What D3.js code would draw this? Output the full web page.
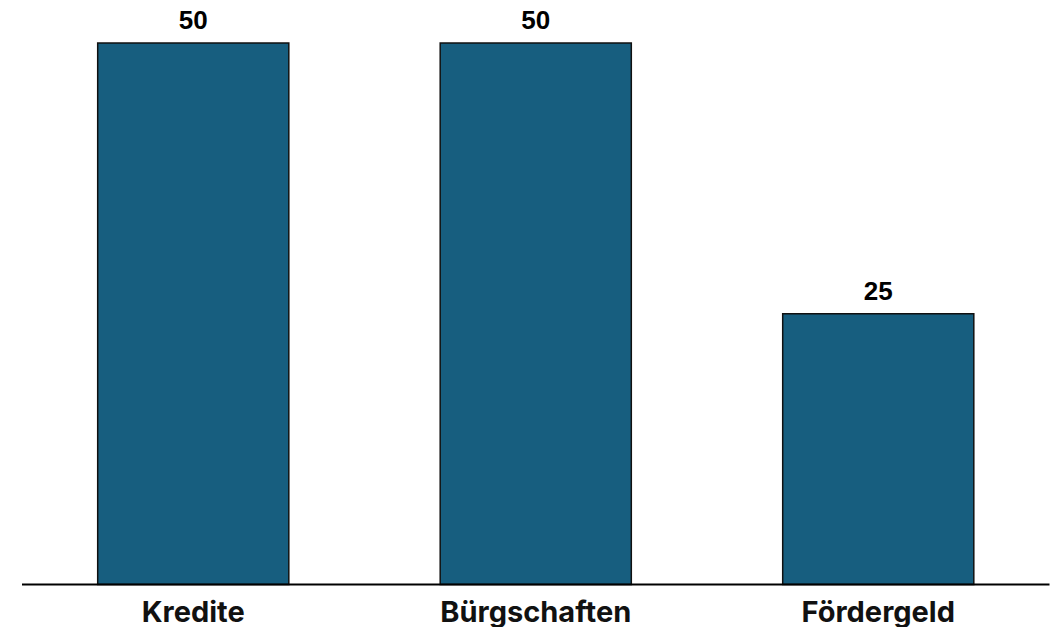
<!DOCTYPE html>
<html><head><meta charset="utf-8">
<script src="https://cdn.jsdelivr.net/npm/d3@7"></script>
<style>body{margin:0;background:#fff}svg{display:block}</style>
</head><body>
<svg id="c" width="1053" height="627"></svg>
<script>
const categories = ["Kredite", "Bürgschaften", "Fördergeld"];
const values = [50, 50, 25];

const svg = d3.select("#c");
const baseY = 584.5;
const x = d3.scaleBand().domain(categories).range([22, 1049.5]).paddingInner(0.442).paddingOuter(0.221);
const y = d3.scaleLinear().domain([0, 50]).range([baseY, 43]);

svg.selectAll("rect.bar").data(categories).join("rect")
  .attr("class","bar")
  .attr("x", d => x(d))
  .attr("y", (d,i) => y(values[i]))
  .attr("width", x.bandwidth())
  .attr("height", (d,i) => baseY - y(values[i]))
  .attr("fill", "#175e7f")
  .attr("stroke", "#111")
  .attr("stroke-width", 1.5);

svg.selectAll("text.val").data(categories).join("text")
  .attr("class","val")
  .attr("x", d => x(d) + x.bandwidth()/2)
  .attr("y", (d,i) => y(values[i]) - 14)
  .attr("text-anchor","middle")
  .attr("font-family","Liberation Sans, Arial, sans-serif")
  .attr("font-weight","bold")
  .attr("font-size", 26)
  .attr("fill","#000")
  .text((d,i) => values[i]);

const axis = d3.axisBottom(x).tickSize(0).tickPadding(17);
const g = svg.append("g").attr("transform", `translate(0,${baseY})`).call(axis);
g.select(".domain").attr("stroke","#000").attr("stroke-width",2).attr("d","M22,0H1049.5");
g.selectAll(".tick text")
  .attr("font-family","Inter, sans-serif")
  .attr("font-weight","bold")
  .attr("font-size", 29)
  .attr("fill","#111");
</script>
</body></html>
